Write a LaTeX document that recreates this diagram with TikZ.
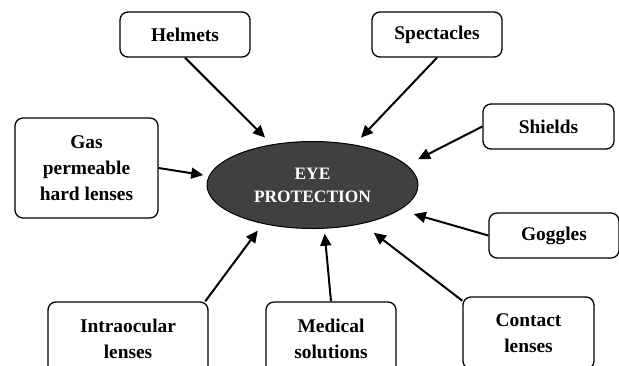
\documentclass[tikz,border=0pt]{standalone}
\usepackage{fontspec}
\setmainfont{Liberation Serif}
\usetikzlibrary{arrows.meta,shapes.geometric}

\tikzset{
  itembox/.style={draw=black, line width=0.65pt, rounded corners=4pt, align=center,
    inner sep=0pt, font=\fontsize{9.7}{13}\selectfont\bfseries},
  hub/.style={ellipse, draw=black, line width=0.5pt, fill=black!75, inner sep=0pt,
    minimum width=105.5pt, minimum height=43.5pt, align=center, text=white,
    font=\fontsize{8.7}{11.5}\selectfont\bfseries},
  feed/.style={line width=1pt, -{Triangle[length=6pt,width=5.5pt]}}
}

\begin{document}
\begin{tikzpicture}[x=0.5pt, y=-0.5pt]
      \useasboundingbox (0,0) rectangle (619,365);

      \node[hub, name=eye] at (312.5,185) {EYE\\PROTECTION};

      \node[itembox, name=helm, minimum width=65pt, minimum height=22.5pt] at (185,34.5) {Helmets};
      \node[itembox, name=spec, minimum width=65pt, minimum height=22.5pt] at (437,34.5) {Spectacles};
      \node[itembox, name=shl, minimum width=65.5pt, minimum height=22.5pt] at (548.5,126.5) {Shields};
      \node[itembox, name=gog, minimum width=65pt, minimum height=22.5pt] at (554,235.5) {Goggles};
      \node[itembox, name=gas, minimum width=71.5pt, minimum height=50pt] at (86.5,168) {Gas\\permeable\\hard lenses};
      \node[itembox, name=intra, minimum width=80pt, minimum height=37pt] at (128,339) {Intraocular\\lenses};
      \node[itembox, name=med, minimum width=65pt, minimum height=37pt] at (331,339) {Medical\\solutions};
      \node[itembox, name=cont, minimum width=65.5pt, minimum height=36pt] at (528.5,333) {Contact\\lenses};

      \path[feed]
         (helm.south) edge[shorten >=4.8pt] (eye.135.3)
         (spec.south) edge[shorten >=4.8pt] (eye.44.7)
         (shl.west) edge[shorten >=6.3pt] (eye.12.3)
         (gog.west) edge[shorten >=7.3pt] (eye.-16.1)
         (gas.east) edge[shorten >=2.8pt] (eye.175.8)
         (intra.26.6) edge[shorten >=4.2pt] (eye.218.9)
         (med.north) edge[shorten >=2.5pt] (eye.-75.4)
         (cont.154.7) edge[shorten >=7.3pt] (eye.-38.9);
   \end{tikzpicture}
\end{document}
